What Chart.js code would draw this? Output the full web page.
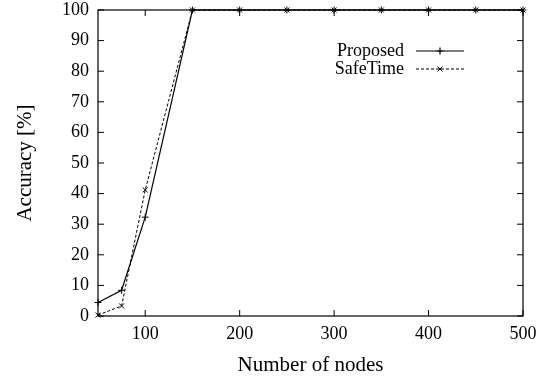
<!DOCTYPE html>
<html>
<head>
<meta charset="utf-8">
<script src="https://cdn.jsdelivr.net/npm/chart.js@4/dist/chart.umd.min.js"></script>
<style>
  html, body { margin: 0; padding: 0; background: #fff; }
  #wrap { width: 546px; height: 379px; }
</style>
</head>
<body>
<div id="wrap"><canvas id="accChart" width="546" height="379"></canvas></div>
<script>
const nodes = [50, 75, 100, 150, 200, 250, 300, 350, 400, 450, 500];
const proposed = [4.4, 8.4, 32.3, 100, 100, 100, 100, 100, 100, 100, 100];
const safeTime = [0.3, 3.3, 41.2, 100, 100, 100, 100, 100, 100, 100, 100];
const xTicks = [100, 200, 300, 400, 500];
const yTicks = [0, 10, 20, 30, 40, 50, 60, 70, 80, 90, 100];
const seriesNames = ["Proposed", "SafeTime"];

const serif = "'Liberation Serif', 'Times New Roman', serif";

// gnuplot-like frame, mirrored inward ticks and legend
const framePlugin = {
  id: "frame",
  afterDatasetsDraw(chart) {
    const { ctx, chartArea: a, scales } = chart;
    ctx.save();
    ctx.strokeStyle = "#000";
    ctx.lineWidth = 1.2;
    ctx.strokeRect(a.left, a.top, a.right - a.left, a.bottom - a.top);
    ctx.lineWidth = 1;
    const len = 6;
    ctx.beginPath();
    xTicks.forEach(v => {
      const px = scales.x.getPixelForValue(v);
      ctx.moveTo(px, a.bottom); ctx.lineTo(px, a.bottom - len);
      ctx.moveTo(px, a.top); ctx.lineTo(px, a.top + len);
    });
    yTicks.forEach(v => {
      const py = scales.y.getPixelForValue(v);
      ctx.moveTo(a.left, py); ctx.lineTo(a.left + len, py);
      ctx.moveTo(a.right, py); ctx.lineTo(a.right - len, py);
    });
    ctx.stroke();

    // legend
    ctx.font = "18px " + serif;
    ctx.fillStyle = "#000";
    ctx.textAlign = "right";
    ctx.textBaseline = "middle";
    chart.data.datasets.forEach((ds, i) => {
      const y = 51 + i * 18;
      ctx.fillText(ds.label, 404, y);
      ctx.beginPath();
      ctx.setLineDash(ds.borderDash || []);
      ctx.lineWidth = ds.borderWidth;
      ctx.moveTo(416, y); ctx.lineTo(464, y);
      ctx.stroke();
      ctx.setLineDash([]);
      Chart.helpers.drawPoint(ctx, {
        pointStyle: ds.pointStyle, radius: ds.pointRadius, rotation: 0,
        borderWidth: 1
      }, 440, y);
    });
    ctx.restore();
  }
};

new Chart(document.getElementById("accChart"), {
  type: "line",
  data: {
    datasets: [
      {
        label: seriesNames[0],
        data: nodes.map((n, i) => ({ x: n, y: proposed[i] })),
        borderColor: "#000",
        backgroundColor: "#000",
        borderWidth: 1.2,
        pointStyle: "cross",
        pointRadius: 3.5,
        pointBorderWidth: 1,
        clip: false
      },
      {
        label: seriesNames[1],
        data: nodes.map((n, i) => ({ x: n, y: safeTime[i] })),
        borderColor: "#000",
        backgroundColor: "#000",
        borderWidth: 1,
        borderDash: [3, 2],
        pointStyle: "crossRot",
        pointRadius: 3.5,
        pointBorderWidth: 1,
        clip: false
      }
    ]
  },
  options: {
    responsive: false,
    animation: false,
    layout: { padding: { top: 0, right: 23, left: 0, bottom: 0 } },
    plugins: { legend: { display: false }, tooltip: { enabled: false } },
    elements: { line: { tension: 0 } },
    scales: {
      x: {
        type: "linear",
        min: 50,
        max: 500,
        afterBuildTicks: s => { s.ticks = xTicks.map(v => ({ value: v })); },
        afterFit: s => { s.height = 63; },
        grid: { display: false, drawTicks: false },
        border: { display: false },
        ticks: { color: "#000", font: { family: serif, size: 18 }, padding: 7, maxRotation: 0 },
        title: { display: true, text: "Number of nodes", color: "#000", font: { family: serif, size: 21 }, padding: { top: 0, bottom: 1 } }
      },
      y: {
        min: 0,
        max: 100,
        afterBuildTicks: s => { s.ticks = yTicks.map(v => ({ value: v })); },
        afterFit: s => { s.width = 98; s.paddingTop = 10; s.paddingBottom = 0; },
        grid: { display: false, drawTicks: false },
        border: { display: false },
        ticks: { color: "#000", font: { family: serif, size: 18 }, padding: 9 },
        title: { display: true, text: "Accuracy [%]", color: "#000", font: { family: serif, size: 21 }, padding: { top: 13, bottom: 0 } }
      }
    }
  },
  plugins: [framePlugin]
});
</script>
</body>
</html>
